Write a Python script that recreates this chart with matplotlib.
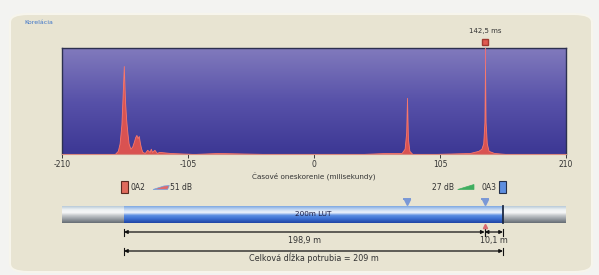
import numpy as np
import matplotlib
matplotlib.use("Agg")
import matplotlib.pyplot as plt
from matplotlib.colors import LinearSegmentedColormap
from matplotlib.patches import FancyBboxPatch, Rectangle, Polygon

# ---- data ----
lag_ms = [-210, -166, -163.5, -162, -160.5, -159.5, -158.5, -157.5, -156.5, -155.5, -154.5, -153, -151.5,
          -150, -149, -148, -147, -146, -145, -144, -143, -141, -139, -137, -136, -135, -133, -131,
          -129, -120, -100, -80, -40, 0, 40, 60, 73, 75.5, 76.8, 77.5, 78.3, 79.5, 82, 100, 130, 137,
          139.5, 141, 142, 142.5, 143, 144, 145.5, 150, 160, 180, 210]
amplitude = [0.0, 0.0, 0.03, 0.10, 0.28, 0.55, 0.83, 0.50, 0.32, 0.20, 0.10, 0.05, 0.07,
             0.12, 0.16, 0.18, 0.15, 0.17, 0.10, 0.05, 0.02, 0.01, 0.04, 0.02, 0.05, 0.02, 0.04, 0.01,
             0.02, 0.01, 0.0, 0.01, 0.0, 0.0, 0.0, 0.01, 0.01, 0.05, 0.20, 0.53, 0.14, 0.03, 0.0, 0.0, 0.01, 0.03,
             0.05, 0.10, 0.30, 0.86, 0.30, 0.10, 0.03, 0.01, 0.0, 0.0, 0.0]
xticks = [-210, -105, 0, 105, 210]
cursor_ms = 142.5
pipe_length_m = 209.0
leak_from_a2_m = 198.9
leak_from_a3_m = 10.1
sound_speed_km_s = 1.325
peaks_ms = [77.5, 142.5]
sensor_left = "0A2"
sensor_right = "0A3"
gain_left_db = 51
gain_right_db = 27
pipe_label = "200m LUT"

W, H = 599, 275
fig = plt.figure(figsize=(W / 100, H / 100), dpi=100)
fig.patch.set_facecolor("#f3f3f1")

def fx(px):
    return px / W

def fy(py):
    return 1 - py / H

# background panel
panel = FancyBboxPatch((fx(10), fy(272)), fx(582), fy(14) - fy(272),
                       boxstyle="round,pad=0,rounding_size=0.03",
                       transform=fig.transFigure, facecolor="#e8e4d2",
                       edgecolor="#f7f5ec", linewidth=1.5, zorder=-10)
fig.patches.append(panel)
fig.text(fx(24), fy(22), "Korelácia", color="#3d74c8", fontsize=4.5, va="center", ha="left")

# ---- main correlation axes ----
ax_l, ax_r, ax_t, ax_b = 62, 566, 48, 154
ax = fig.add_axes([fx(ax_l), fy(ax_b), fx(ax_r - ax_l), fy(ax_t) - fy(ax_b)])
cmap = LinearSegmentedColormap.from_list("bg", ["#3c3794", "#5852a9", "#827bbd"])
grad = np.linspace(0, 1, 256).reshape(-1, 1)
ax.imshow(grad, extent=[-210, 210, 0, 1], origin="lower", aspect="auto", cmap=cmap, zorder=0)
ax.fill_between(lag_ms, amplitude, 0, color="#e2544e", alpha=0.95, linewidth=0.6,
                edgecolor="#ff7a6a", zorder=2)
peak_amp = amplitude[lag_ms.index(cursor_ms)]
ax.plot([cursor_ms, cursor_ms], [peak_amp, 1.0], color="#e8707a", lw=0.8, zorder=3)
ax.set_xlim(-210, 210)
ax.set_ylim(0, 1)
ax.set_yticks([])
ax.set_xticks(xticks)
ax.set_xticklabels([str(t) for t in xticks], fontsize=5.5, color="#333333")
ax.tick_params(axis="x", length=3, width=0.6, pad=1.5, color="#222222")
for s in ["top", "left", "right"]:
    ax.spines[s].set_color("#2c3050")
    ax.spines[s].set_linewidth(1.0)
ax.spines["bottom"].set_color("#d88a80")
ax.spines["bottom"].set_linewidth(0.8)
ax.set_xlabel("Časové oneskorenie (milisekundy)", fontsize=5.2, color="#333333", labelpad=3)

# cursor marker above axes
ax.plot([cursor_ms], [1.055], marker="s", markersize=5, color="#e05a50",
        markeredgecolor="#a03a30", clip_on=False, zorder=5)
ax.text(cursor_ms, 1.13, f"{cursor_ms:.1f}".replace(".", ",") + " ms", fontsize=5,
        ha="center", va="bottom", color="#333333", transform=ax.transData, clip_on=False)

# ---- pipe / dimensions axes (meters) ----
m_per_px = pipe_length_m / (503 - 124)
x0_m = -(124 - 62) * m_per_px
x1_m = (566 - 124) * m_per_px
pa_t, pa_b = 176, 262
pax = fig.add_axes([fx(62), fy(pa_b), fx(504), fy(pa_t) - fy(pa_b)])
pax.axis("off")
pax.patch.set_alpha(0)

# legend row
ly = 187
pax.add_patch(Rectangle((0 - 1.5, ly - 6), 3.5, 12, facecolor="#e06a5c", edgecolor="#5a2a20", lw=0.8))
pax.text(3.5, ly, sensor_left, fontsize=5.5, va="center", ha="left", color="#333333")
pax.add_patch(Polygon([[16, ly + 2.5], [22, ly - 1], [25, ly - 1.5], [24, ly + 2.5]],
                      closed=True, facecolor="#e06a6a", edgecolor="#6fa0e0", lw=0.5))
pax.text(25.5, ly, f"{gain_left_db} dB", fontsize=5.5, va="center", ha="left", color="#333333")

pax.add_patch(Rectangle((pipe_length_m - 2, ly - 6), 3.5, 12, facecolor="#5d8ee0", edgecolor="#24304a", lw=0.8))
pax.text(pipe_length_m - 3.5, ly, sensor_right, fontsize=5.5, va="center", ha="right", color="#333333")
pax.add_patch(Polygon([[184, ly + 2.5], [193, ly - 2.5], [193, ly + 2.5]],
                      closed=True, facecolor="#3fae60", edgecolor="#3fae60", lw=0.5))
pax.text(182, ly, f"{gain_right_db} dB", fontsize=5.5, va="center", ha="right", color="#333333")

# pipe tube
pt, pb = 206, 223
gray = LinearSegmentedColormap.from_list(
    "g", [(0, "#666d74"), (0.25, "#9aa0a6"), (0.45, "#c6cacd"), (0.62, "#f6f7f8"), (0.8, "#eef1f3"), (1, "#b8cad8")])
blue = LinearSegmentedColormap.from_list(
    "b", [(0, "#1f44a4"), (0.25, "#3b6fd2"), (0.45, "#5b8ee2"), (0.62, "#eef3fc"), (0.8, "#c4d8f2"), (1, "#7fa8e2")])
tg = np.linspace(0, 1, 64).reshape(-1, 1)
pax.imshow(tg, extent=[x0_m, x1_m, pb, pt], origin="lower", aspect="auto", cmap=gray, zorder=1)
pax.imshow(tg, extent=[0, pipe_length_m, pb, pt], origin="lower", aspect="auto", cmap=blue, zorder=2)
pax.set_xlim(x0_m, x1_m)
pax.set_ylim(pa_b, pa_t)
pax.plot([pipe_length_m, pipe_length_m], [pt, pb], color="#1e2a44", lw=1.3, zorder=3)
pax.text(pipe_length_m / 2, (pt + pb) / 2, pipe_label, fontsize=5.2, ha="center", va="center",
         color="#1a1a40", zorder=4)

# funnel markers for peaks
for p in peaks_ms:
    pos = (pipe_length_m + sound_speed_km_s * p) / 2
    pax.plot([pos], [201.5], marker="v", markersize=4, color="#7a98d6", zorder=4)
    pax.plot([pos - 1.6, pos + 1.6], [198.8, 198.8], color="#7a98d6", lw=1.4, zorder=4)
pax.plot([leak_from_a2_m], [225.5], marker="^", markersize=3, color="#d86a70", zorder=4)

# dimension lines
def dim(xa, xb, y, lw=0.9):
    pax.annotate("", xy=(xb, y), xytext=(xa, y),
                 arrowprops=dict(arrowstyle="<|-|>", color="#111111", lw=lw,
                                 mutation_scale=5, shrinkA=0, shrinkB=0))
    pax.plot([xa, xa], [y - 3.5, y + 3.5], color="#111111", lw=0.8)
    pax.plot([xb, xb], [y - 3.5, y + 3.5], color="#111111", lw=0.8)

dy1 = 232
dim(0, leak_from_a2_m, dy1)
dim(leak_from_a2_m, pipe_length_m, dy1)
pax.text(leak_from_a2_m / 2, dy1 + 8.5, f"{leak_from_a2_m:.1f}".replace(".", ",") + " m",
         fontsize=5.8, ha="center", va="center", color="#333333")
pax.text(leak_from_a2_m + leak_from_a3_m / 2, dy1 + 8.5, f"{leak_from_a3_m:.1f}".replace(".", ",") + " m",
         fontsize=5.8, ha="center", va="center", color="#333333")
dy2 = 251
dim(0, pipe_length_m, dy2)
pax.text(pipe_length_m / 2, dy2 + 7, f"Celková dĺžka potrubia = {pipe_length_m:.0f} m",
         fontsize=5.8, ha="center", va="center", color="#333333")

fig.savefig("out.png", dpi=100, facecolor=fig.get_facecolor())
